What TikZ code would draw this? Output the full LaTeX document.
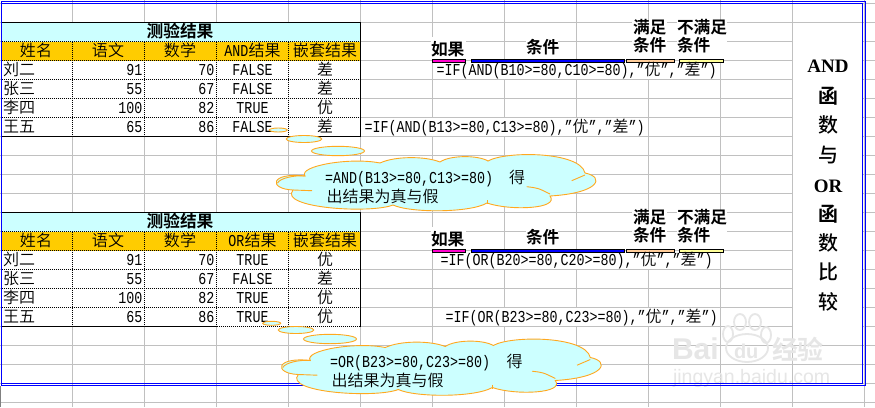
\documentclass[tikz,border=0pt]{standalone}
\usepackage{fontspec}
\setmainfont[FakeStretch=0.8]{Liberation Mono}
\newfontfamily\cjk[Scale=0.96]{Noto Sans CJK SC DemiLight}
\newfontfamily\cjkb[Scale=0.96]{Noto Sans CJK SC Bold}
\newfontfamily\cjkm[Scale=0.96]{Noto Sans CJK SC Medium}
\newfontfamily\bigserif{Liberation Serif}
\newfontfamily\wmsans{Liberation Sans}
\definecolor{gridc}{HTML}{C0C0C0}
\definecolor{cyanf}{HTML}{CCFFFF}
\definecolor{goldf}{HTML}{FFCC00}
\definecolor{cloudl}{HTML}{FFA81F}
\definecolor{framec}{HTML}{0000FF}
\definecolor{wmc}{HTML}{E6E6E6}
\newcommand{\Cn}[1]{{\cjk #1}}
\newcommand{\Cb}[1]{{\cjkb #1}}
\newcommand{\Cm}[1]{{\cjkm #1}}
\tikzset{
  txt/.style={inner sep=0pt,outer sep=0pt,text height=12pt,text depth=2pt,font=\fontsize{16.67}{18}\selectfont},
  lab/.style={txt,anchor=west,font=\fontsize{17.4}{18}\selectfont},
  tdot/.style={line width=1pt,dash pattern=on 1pt off 1pt,black},
  tsolid/.style={line width=1pt,black},
  bar/.style={draw=black,line width=0.7pt},
  puff/.style={draw=cloudl,fill=cyanf,line width=0.9pt},
  frameline/.style={draw=framec,line width=1pt},
  side/.style={txt,font=\fontsize{20.8}{22}\selectfont},
  sidelat/.style={inner sep=0pt,outer sep=0pt,font=\bigserif\bfseries\fontsize{19}{20}\selectfont},
  wm/.style={inner sep=0pt,outer sep=0pt,text=wmc},
  paw/.style={draw=wmc,line width=1.8pt}
}
\newcommand{\DataTable}[3]{%
 \begin{scope}[shift={(0,#1)}]
  \fill[cyanf] (1.5,0) rectangle (360.5,19);
  \fill[goldf] (1.5,19) rectangle (360.5,38);
  \fill[white] (1.5,38) rectangle (360.5,114);
  \foreach \yy in {19,38,57,76,95}{\draw[tdot] (1.5,\yy) -- (360.5,\yy);}
  \foreach \xx in {72.5,144.5,216.5,288.5}{\draw[tdot] (\xx,19) -- (\xx,114);}
  \node[lab,anchor=center] (#2title) at (180,10) {\Cb{测验结果}};
  \node[txt] (#2h1) at (36,29) {\Cn{姓名}};
  \node[txt] (#2h2) at (108,29) {\Cn{语文}};
  \node[txt] (#2h3) at (180,29) {\Cn{数学}};
  \node[txt] (#2h4) at (252.5,29) {#3\Cn{结果}};
  \node[txt] (#2h5) at (325,29) {\Cn{嵌套结果}};
  \node[txt,anchor=west] (#2n1) at (3,48) {\Cn{刘二}};
  \node[txt,anchor=west] (#2n2) at (3,67) {\Cn{张三}};
  \node[txt,anchor=west] (#2n3) at (3,86) {\Cn{李四}};
  \node[txt,anchor=west] (#2n4) at (3,105) {\Cn{王五}};
  \node[txt,anchor=east] (#2a1) at (142.5,48) {91};
  \node[txt,anchor=east] (#2a2) at (142.5,67) {55};
  \node[txt,anchor=east] (#2a3) at (142.5,86) {100};
  \node[txt,anchor=east] (#2a4) at (142.5,105) {65};
  \node[txt,anchor=east] (#2b1) at (214.5,48) {70};
  \node[txt,anchor=east] (#2b2) at (214.5,67) {67};
  \node[txt,anchor=east] (#2b3) at (214.5,86) {82};
  \node[txt,anchor=east] (#2b4) at (214.5,105) {86};
 \end{scope}}
\newcommand{\ResRow}[4]{%
  \node[txt] (#1r) at (252.5,#2) {#3};
  \node[txt] (#1s) at (325,#2) {\Cn{#4}};}
\newcommand{\Labels}[1]{%
 \begin{scope}[shift={(0,#1)}]
  \fill[white] (431,37) rectangle (466,59);
  \fill[white] (526,37) rectangle (558,59);
  \fill[white] (632,20) rectangle (667,59);
  \fill[white] (677,20) rectangle (727,59);
  \node[lab] (l1#1) at (431,50) {\Cb{如果}};
  \node[lab] (l2#1) at (526,48.5) {\Cb{条件}};
  \node[lab] (l3#1) at (633,28) {\Cb{满足}};
  \node[lab] (l4#1) at (633,46) {\Cb{条件}};
  \node[lab] (l5#1) at (677,28) {\Cb{不满足}};
  \node[lab] (l6#1) at (677,46) {\Cb{条件}};
  \path[bar,fill={rgb,255:red,255;green,0;blue,204}] (432.3,59.3) rectangle (465.7,62.7);
  \path[bar,fill={rgb,255:red,0;green,0;blue,255}] (471,59.3) rectangle (624,62.7);
  \path[bar,fill={rgb,255:red,255;green,204;blue,153}] (626.7,59.3) rectangle (674.7,62.7);
  \path[bar,fill={rgb,255:red,255;green,255;blue,153}] (679.3,59.3) rectangle (723.7,62.7);
 \end{scope}}
\newcommand{\CloudBody}{%
  \path[puff] (305,176) .. controls (298,166) and (350,157) .. (380,163)
    .. controls (395,156) and (425,156) .. (440,162)
    .. controls (450,155) and (478,155) .. (488,161)
    .. controls (505,151) and (580,151) .. (585,173)
    .. controls (605,177) and (600,193) .. (550,196)
    .. controls (560,209) and (510,211) .. (487,203)
    .. controls (470,213) and (410,213) .. (393,205)
    .. controls (370,214) and (278,208) .. (293,190)
    .. controls (268,189) and (270,172) .. (305,176) -- cycle;
  \fill[cyanf] (296,180) rectangle (540,198);
  \draw[cloudl,line width=0.9pt] (293,190) -- (312,190.7);
  \draw[cloudl,line width=0.9pt] (571.7,180.7) -- (585,175);
  \draw[cloudl,line width=0.9pt] (526.7,186.7) .. controls (538,188) .. (550,194);
  \draw[cloudl,line width=0.9pt] (277.5,183) .. controls (280,178) and (295,175) .. (305,176);
  \draw[cloudl,line width=0.9pt] (487,200) -- (487,204);}
\begin{document}
\begin{tikzpicture}[x=1pt,y=-1pt]
\useasboundingbox (0,0) rectangle (875,407);
\fill[white] (0,0) rectangle (875,407);
% grid
\foreach \xx in {72.5,144.5,...,864.5}{\draw[gridc,line width=1pt] (\xx,0) -- (\xx,407);}
\foreach \yy in {3.5,22.5,41.5,...,402.5}{\draw[gridc,line width=1pt] (0,\yy) -- (875,\yy);}
% side column without grid
\fill[white] (793.2,23.2) rectangle (862,344.8);
% cells where long formulas run over
\fill[white] (433.2,61) rectangle (720,79);
\fill[white] (361.2,118) rectangle (648,136);
\fill[white] (433.2,251) rectangle (720,269);
\fill[white] (433.2,308) rectangle (720,326);
\Labels{0}
\Labels{190}
% tables
\DataTable{22.5}{a}{AND}
\begin{scope}[shift={(0,22.3)}]
  \ResRow{a1}{48}{FALSE}{差}\ResRow{a2}{67}{FALSE}{差}\ResRow{a3}{86}{TRUE}{优}\ResRow{a4}{105}{FALSE}{差}
\end{scope}
\draw[tsolid] (1.5,22.5) rectangle (360.5,136.5);
\DataTable{212.5}{b}{OR}
\begin{scope}[shift={(0,212.3)}]
  \ResRow{b1}{48}{TRUE}{优}\ResRow{b2}{67}{FALSE}{差}\ResRow{b3}{86}{TRUE}{优}\ResRow{b4}{105}{TRUE}{优}
\end{scope}
\draw[tsolid] (1.5,326.5) -- (216.5,326.5);
\draw[tdot] (216.5,326.5) -- (360.5,326.5);
\draw[tsolid] (1.5,212.5) -- (360.5,212.5) -- (360.5,326.5);
% formulas
\node[txt,anchor=west] (f1) at (436.5,70) {=IF(AND(B10>=80,C10>=80),”\Cn{优}”,”\Cn{差}”)};
\node[txt,anchor=west] (f2) at (364.5,127) {=IF(AND(B13>=80,C13>=80),”\Cn{优}”,”\Cn{差}”)};
\node[txt,anchor=west] (f3) at (440.5,260) {=IF(OR(B20>=80,C20>=80),”\Cn{优}”,”\Cn{差}”)};
\node[txt,anchor=west] (f4) at (445.5,317) {=IF(OR(B23>=80,C23>=80),”\Cn{优}”,”\Cn{差}”)};
% frame
\draw[frameline] (1.5,1.5) rectangle (865.5,385.5);
\draw[frameline] (1.5,3.5) -- (862.5,3.5) -- (862.5,383.5) -- (1.5,383.5);
\fill[gray] (0,386) rectangle (0.8,407);
% side title
\node[sidelat] (s1) at (828,66) {AND};
\node[side] (s2) at (828,98) {\Cb{函}};
\node[side] (s3) at (828,127) {\Cm{数}};
\node[side] (s4) at (828,157) {\Cm{与}};
\node[sidelat] (s5) at (828,186) {OR};
\node[side] (s6) at (828,216) {\Cb{函}};
\node[side] (s7) at (828,245) {\Cm{数}};
\node[side] (s8) at (828,274) {\Cm{比}};
\node[side] (s9) at (828,304) {\Cm{较}};
% watermark
\draw[paw] (747,348) ellipse (21 and 14);
\draw[paw] (728,334) ellipse (5 and 8);
\draw[paw] (740,322) ellipse (6 and 8);
\draw[paw] (755,322) ellipse (6 and 8);
\draw[paw] (766,335) ellipse (5 and 8);
\node[wm,anchor=west,font=\wmsans\bfseries\fontsize{30}{32}\selectfont] (w1) at (672,349) {Bai};
\node[wm,anchor=west,font=\wmsans\bfseries\fontsize{20}{22}\selectfont] (w2) at (734,351) {du};
\node[wm,anchor=west,font=\fontsize{27}{28}\selectfont] (w3) at (772,349) {\Cb{经验}};
\node[wm,anchor=west,font=\wmsans\fontsize{19.5}{21}\selectfont] (w4) at (673,378) {jingyan.baidu.com};
\draw[frameline] (660,383.5) -- (862.5,383.5);
\draw[frameline] (660,385.5) -- (865.5,385.5);
% clouds
\path[puff] (278.3,130) ellipse (9 and 2);
\path[puff] (304,139) ellipse (17.7 and 3.5);
\path[puff] (338,151) ellipse (26.5 and 4.7);
\CloudBody
\node[txt,anchor=west] (c1a) at (325,178) {=AND(B13>=80,C13>=80)};
\node[txt] (c1b) at (517,178) {\Cn{得}};
\node[txt,anchor=west] (c1c) at (326.5,197) {\Cn{出结果为真与假}};
\path[puff] (271.7,323.3) ellipse (9 and 2);
\path[puff] (296,330) ellipse (17.7 and 3.5);
\path[puff] (330,339) ellipse (26.5 and 4.7);
\begin{scope}[shift={(5.3,184.5)}]
\CloudBody
\end{scope}
\node[txt,anchor=west] (c2a) at (330,362) {=OR(B23>=80,C23>=80)};
\node[txt] (c2b) at (514.5,362) {\Cn{得}};
\node[txt,anchor=west] (c2c) at (331.5,381) {\Cn{出结果为真与假}};
\end{tikzpicture}
\end{document}
